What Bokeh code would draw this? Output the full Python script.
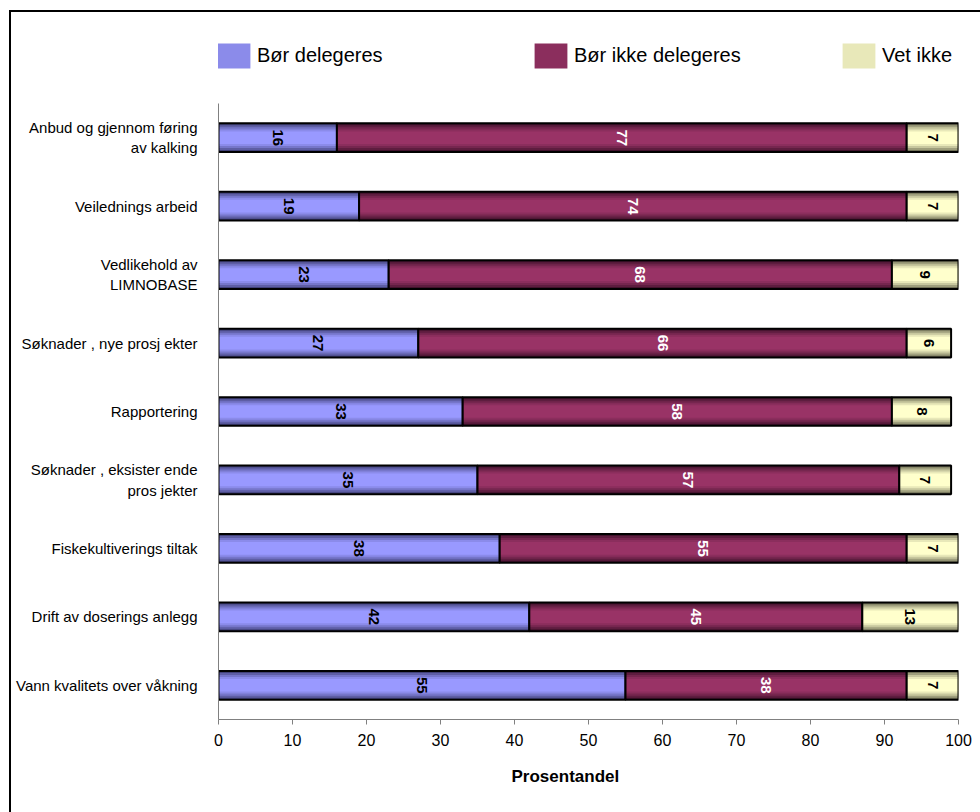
import numpy as np
from bokeh.plotting import figure
from bokeh.models import FixedTicker, Legend, LegendItem, ColumnDataSource, Range1d, Title
from bokeh.core.properties import value
from bokeh.embed import file_html
from bokeh.resources import INLINE

# ---------------- data ----------------
categories = [
    "Anbud og gjennom føring\nav kalking",
    "Veilednings arbeid",
    "Vedlikehold av\nLIMNOBASE",
    "Søknader , nye prosj ekter",
    "Rapportering",
    "Søknader , eksister ende\npros jekter",
    "Fiskekultiverings tiltak",
    "Drift av doserings anlegg",
    "Vann kvalitets over våkning",
]
bor_delegeres = [16, 19, 23, 27, 33, 35, 38, 42, 55]
bor_ikke_delegeres = [77, 74, 68, 66, 58, 57, 55, 45, 38]
vet_ikke = [7, 7, 9, 6, 8, 7, 7, 13, 7]
series_names = ["Bør delegeres", "Bør ikke delegeres", "Vet ikke"]
x_ticks = [0, 10, 20, 30, 40, 50, 60, 70, 80, 90, 100]
x_axis_label = "Prosentandel"

# ---------------- styling ----------------
FONT = "Liberation Sans"
edge_colors = ["#42427a", "#42122c", "#727258"]
center_colors = ["#9999ff", "#993366", "#ffffcc"]
label_colors = ["black", "white", "black"]
BAR_H = 0.42
N = len(categories)
BAND_PX = 616 / N          # pixel height of one category band
FRAME_H = 689              # frame also holds the legend row above the bars


def mix(c1, c2, t):
    a = [int(c1[i:i + 2], 16) for i in (1, 3, 5)]
    b = [int(c2[i:i + 2], 16) for i in (1, 3, 5)]
    return "#%02x%02x%02x" % tuple(int(round(a[k] + (b[k] - a[k]) * t)) for k in range(3))


ypos = [N - 1 - i for i in range(N)]   # first category at the top

p = figure(
    x_range=Range1d(0, 100),
    y_range=Range1d(-0.5, -0.5 + FRAME_H / BAND_PX),
    frame_width=740, frame_height=FRAME_H,
    min_border_left=207, min_border_right=22, min_border_top=18, min_border_bottom=93,
    output_backend="svg", toolbar_location=None,
)
p.styles = {"border-left": "2px solid #000", "border-top": "2px solid #000",
            "margin-left": "9px", "margin-top": "10px"}
p.outline_line_color = None
p.xgrid.visible = False
p.ygrid.visible = False
p.background_fill_color = "white"
p.border_fill_color = "white"

series = [bor_delegeres, bor_ikke_delegeres, vet_ikke]
lefts = []
acc = [0] * N
for s in series:
    lefts.append(list(acc))
    acc = [a + v for a, v in zip(acc, s)]

layer_fracs = [1.0, 0.86, 0.72, 0.58, 0.44]
layer_t = [0.0, 0.32, 0.6, 0.84, 1.0]
legend_r = []
for si, s in enumerate(series):
    src = ColumnDataSource(dict(
        y=ypos,
        left=lefts[si],
        right=[l + v for l, v in zip(lefts[si], s)],
        mid=[l + v / 2 for l, v in zip(lefts[si], s)],
        lab=[str(v) for v in s],
    ))
    layers = []
    for f, t in zip(layer_fracs, layer_t):
        layers.append(p.hbar(y="y", left="left", right="right", height=BAR_H * f, source=src,
                             fill_color=mix(edge_colors[si], center_colors[si], t), line_color=None))
    legend_r.append(layers[3])
    p.hbar(y="y", left="left", right="right", height=BAR_H, source=src,
           fill_alpha=0.0, line_color="black", line_width=2)
    p.text(x="mid", y="y", text="lab", source=src, angle=-np.pi / 2,
           text_align="center", text_baseline="middle",
           text_font=value(FONT), text_font_size="15px", text_font_style="bold",
           text_color=label_colors[si])

# legends (one per series, placed in the row above the bars)
leg_x = [-5, 312, 620]
for si in range(3):
    lg = Legend(items=[LegendItem(label=series_names[si], renderers=[legend_r[si]])],
                location=(leg_x[si], 648), padding=0, margin=0,
                glyph_width=41, glyph_height=31, label_standoff=3,
                label_text_font=FONT, label_text_font_size="20px",
                label_text_color="black",
                border_line_color=None, background_fill_alpha=0.0)
    p.add_layout(lg, "center")

# axes
xa = p.xaxis[0]
xa.ticker = FixedTicker(ticks=x_ticks)
xa.axis_line_color = "#808080"
xa.major_tick_line_color = "#808080"
xa.major_tick_out = 5
xa.major_tick_in = 0
xa.minor_tick_line_color = None
xa.major_label_text_font = FONT
xa.major_label_text_font_size = "16px"
xa.major_label_text_color = "black"
xa.major_label_standoff = 9

p.add_layout(Title(text=x_axis_label, align="left", offset=293, standoff=32,
                   text_font=FONT, text_font_size="17px", text_font_style="bold",
                   text_color="black"), "below")

ya = p.yaxis[0]
ya.ticker = FixedTicker(ticks=ypos)
ya.major_label_overrides = {y: c for y, c in zip(ypos, categories)}
ya.bounds = (-0.5, N - 0.5)
ya.axis_line_color = "#808080"
ya.major_tick_line_color = None
ya.minor_tick_line_color = None
ya.major_label_text_font = FONT
ya.major_label_text_font_size = "15px"
ya.major_label_text_color = "black"
ya.major_label_standoff = 15

open("out.html", "w").write(file_html(p, INLINE))
